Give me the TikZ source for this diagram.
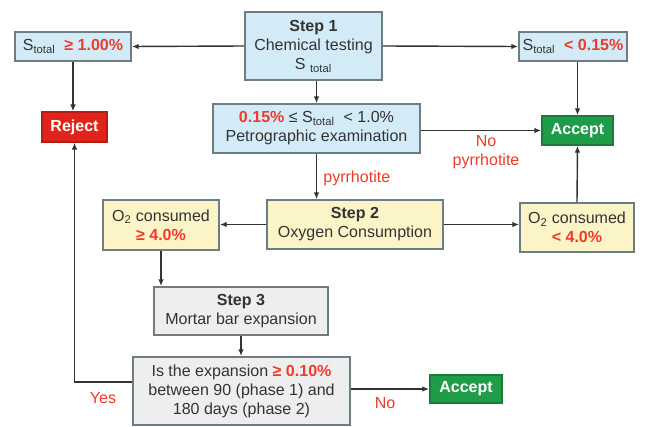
\documentclass[tikz,border=0pt]{standalone}
\usepackage{fontspec}
\setmainfont{Liberation Sans}
\usetikzlibrary{arrows.meta}
\definecolor{boxline}{HTML}{6E7C84}
\definecolor{fillblue}{HTML}{D3EBF7}
\definecolor{fillyellow}{HTML}{FBF4C6}
\definecolor{fillgray}{HTML}{EEEEEE}
\definecolor{rejectred}{HTML}{E0241B}
\definecolor{acceptgreen}{HTML}{1E9C48}
\definecolor{txtred}{HTML}{EE3B2C}
\definecolor{txtgray}{HTML}{333333}
\newcommand{\stot}{S\textsubscript{total}}
\newcommand{\hl}[1]{\textcolor{txtred}{\textbf{#1}}}

\begin{document}
\begin{tikzpicture}[x=0.025cm,y=-0.025cm,line width=1pt,draw=txtgray,>={Latex[length=1.7mm,width=1.4mm]},
  box/.style={draw=boxline,line width=1.3pt,align=center,inner sep=0pt,text=txtgray,font=\fontsize{11.4}{13.6}\selectfont},
  bluebox/.style={box,fill=fillblue},
  yellowbox/.style={box,fill=fillyellow},
  graybox/.style={box,fill=fillgray},
  verdict/.style={box,text=white,font=\fontsize{11.4}{13.6}\selectfont\bfseries},
  lab/.style={text=txtred,align=center,font=\fontsize{11.4}{13.6}\selectfont}]
  \useasboundingbox[fill=white] (0,0) rectangle (646,427);
  % step 1
  \node[bluebox,minimum width=3.42cm,minimum height=1.7cm] (step1) at (313.5,46) {\textbf{Step 1}\\Chemical testing\\S \textsubscript{total}};
  \node[bluebox,minimum width=2.9cm,minimum height=0.72cm] (sHigh) at (73,46.5) {\stot\ \ \hl{≥ 1.00\%}};
  \node[bluebox,minimum width=2.7cm,minimum height=0.72cm] (sLow) at (573,46.5) {\stot\ \ \hl{< 0.15\%}};
  \node[verdict,fill=rejectred,draw=rejectred!80!black,minimum width=1.62cm,minimum height=0.74cm] (reject) at (74.5,127) {Reject};
  \node[verdict,fill=acceptgreen,draw=acceptgreen!80!black,minimum width=1.77cm,minimum height=0.72cm] (acceptTop) at (577.5,130.5) {Accept};
  \node[bluebox,minimum width=5.18cm,minimum height=1.22cm] (petro) at (316.5,128.5) {\hl{0.15\%} ≤ \stot\ \ < 1.0\%\\Petrographic examination};
  \draw[->] (step1.west) -- (sHigh.east);
  \draw[->] (step1.east) -- (sLow.west);
  \draw[->] (sHigh.south) -- (sHigh.south |- reject.north);
  \draw[->] (acceptTop.north |- sLow.south) -- (acceptTop.north);
  \draw[->] (petro.north |- step1.south) -- (petro.north);
  \draw[->] (petro.east |- acceptTop) -- (acceptTop.west);
  \node[lab] (noPyr) at (486,152) {No\\pyrrhotite};
  % step 2
  \node[yellowbox,minimum width=4.4cm,minimum height=1.22cm] (step2) at (355,224.5) {\textbf{Step 2}\\Oxygen Consumption};
  \node[yellowbox,minimum width=2.9cm,minimum height=1.25cm] (oxHigh) at (161,225) {O\textsubscript{2} consumed\\\hl{≥ 4.0\%}};
  \node[yellowbox,minimum width=2.85cm,minimum height=1.22cm] (oxLow) at (577,227.5) {O\textsubscript{2} consumed\\\hl{< 4.0\%}};
  \draw[->] (petro.south) -- (petro.south |- step2.north);
  \node[lab,anchor=west] (pyr) at (318,178) {pyrrhotite};
  \draw[->] (step2.west) -- (step2.west -| oxHigh.east);
  \draw[->] (step2.east) -- (step2.east -| oxLow.west);
  \draw[->] (oxLow.north) -- (acceptTop.south);
  % step 3
  \node[graybox,minimum width=4.35cm,minimum height=1.2cm] (step3) at (241,311) {\textbf{Step 3}\\Mortar bar expansion};
  \node[graybox,minimum width=5.42cm,minimum height=1.7cm] (expan) at (241.5,391) {Is the expansion \hl{≥ 0.10\%}\\between 90 (phase 1) and\\180 days (phase 2)};
  \node[verdict,fill=acceptgreen,draw=acceptgreen!80!black,minimum width=1.8cm,minimum height=0.7cm] (acceptBot) at (466,389) {Accept};
  \draw[->] (oxHigh.south) -- (oxHigh.south |- step3.north);
  \draw[->] (step3.south) -- (step3.south |- expan.north);
  \draw[->] (expan.west) ++(0,-9) -| (reject.south);
  \draw[->] (expan.east |- acceptBot) -- (acceptBot.west);
  \node[lab] (yes) at (103,398) {Yes};
  \node[lab] (no) at (385,403) {No};
\end{tikzpicture}
\end{document}
